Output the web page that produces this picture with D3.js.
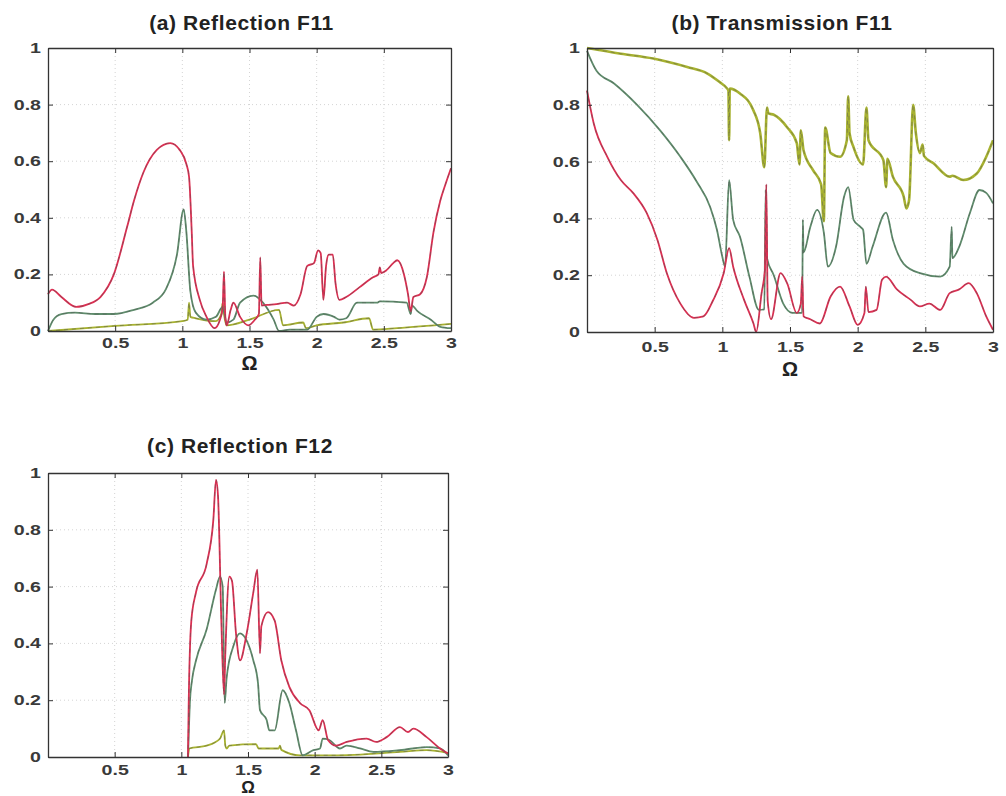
<!DOCTYPE html>
<html>
<head>
<meta charset="utf-8">
<script src="https://cdn.jsdelivr.net/npm/d3@7"></script>
<style>
  body { margin: 0; background: #fff; }
  svg { display: block; font-family: "Liberation Sans", Arial, sans-serif; }
</style>
</head>
<body>
<svg id="chart" width="1006" height="796"></svg>
<script>
// x tick and y tick labels shared by all three panels
const xTicks = [0.5, 1, 1.5, 2, 2.5, 3];
const yTicks = [0, 0.2, 0.4, 0.6, 0.8, 1];

// (a) Reflection F11 - [omega, value]
const aRed = [[0,0.13],[0.03,0.146],[0.1,0.12],[0.21,0.085],[0.3,0.095],[0.39,0.12],[0.49,0.2],[0.59,0.37],[0.64,0.46],[0.71,0.56],[0.81,0.64],[0.91,0.664],[0.98,0.64],[1.03,0.59],[1.05,0.545],[1.07,0.35],[1.08,0.23],[1.13,0.11],[1.18,0.05],[1.24,0.01],[1.28,0.04],[1.30,0.08],[1.31,0.21],[1.32,0.05],[1.33,0.02],[1.36,0.075],[1.38,0.1],[1.43,0.05],[1.49,0.02],[1.54,0.04],[1.57,0.06],[1.58,0.26],[1.59,0.09],[1.63,0.092],[1.7,0.095],[1.78,0.10],[1.83,0.09],[1.88,0.13],[1.93,0.23],[1.98,0.24],[2.01,0.285],[2.03,0.275],[2.05,0.11],[2.07,0.23],[2.09,0.27],[2.12,0.27],[2.14,0.17],[2.17,0.11],[2.22,0.12],[2.32,0.155],[2.42,0.19],[2.46,0.2],[2.47,0.225],[2.48,0.205],[2.52,0.215],[2.57,0.24],[2.60,0.25],[2.65,0.20],[2.68,0.13],[2.70,0.07],[2.72,0.12],[2.77,0.13],[2.82,0.19],[2.87,0.35],[2.92,0.46],[2.96,0.52],[3,0.575]];
const aGreen = [[0,0.0],[0.04,0.04],[0.1,0.06],[0.2,0.065],[0.35,0.06],[0.49,0.06],[0.64,0.075],[0.78,0.1],[0.88,0.15],[0.96,0.27],[1.01,0.43],[1.03,0.35],[1.06,0.14],[1.1,0.065],[1.18,0.04],[1.25,0.05],[1.3,0.085],[1.33,0.03],[1.38,0.04],[1.43,0.1],[1.53,0.125],[1.6,0.1],[1.68,0.04],[1.72,0.0],[1.8,0.005],[1.93,0.005],[2.0,0.05],[2.05,0.06],[2.13,0.05],[2.17,0.04],[2.22,0.045],[2.3,0.1],[2.45,0.1],[2.47,0.105],[2.67,0.1],[2.70,0.06],[2.71,0.09],[2.75,0.07],[2.85,0.04],[2.92,0.015],[3,0.01]];
const aYellow = [[0,0],[0.5,0.018],[1.0,0.035],[1.04,0.04],[1.05,0.10],[1.06,0.05],[1.1,0.045],[1.25,0.035],[1.29,0.06],[1.3,0.1],[1.31,0.06],[1.33,0.02],[1.5,0.04],[1.72,0.075],[1.75,0.02],[1.9,0.03],[1.92,0.01],[2.0,0.02],[2.2,0.03],[2.39,0.045],[2.42,0.005],[2.6,0.01],[3,0.025]];

// (b) Transmission F11
const bYellow = [[0,1.0],[0.25,0.98],[0.49,0.963],[0.74,0.933],[0.89,0.91],[0.98,0.88],[1.03,0.86],[1.045,0.85],[1.05,0.675],[1.055,0.857],[1.13,0.84],[1.23,0.78],[1.28,0.70],[1.31,0.58],[1.33,0.79],[1.34,0.77],[1.38,0.765],[1.48,0.72],[1.55,0.665],[1.57,0.59],[1.58,0.71],[1.6,0.64],[1.67,0.57],[1.73,0.52],[1.75,0.39],[1.76,0.72],[1.8,0.63],[1.87,0.617],[1.92,0.675],[1.93,0.83],[1.94,0.7],[1.97,0.65],[2.04,0.59],[2.065,0.79],[2.08,0.675],[2.19,0.605],[2.21,0.51],[2.22,0.61],[2.26,0.547],[2.34,0.477],[2.36,0.435],[2.38,0.465],[2.41,0.8],[2.43,0.70],[2.46,0.63],[2.48,0.66],[2.49,0.62],[2.56,0.594],[2.68,0.547],[2.7,0.55],[2.78,0.535],[2.88,0.558],[2.95,0.617],[3,0.675]];
const bGreen = [[0,0.99],[0.07,0.92],[0.2,0.875],[0.37,0.80],[0.54,0.71],[0.69,0.617],[0.81,0.53],[0.91,0.44],[0.96,0.36],[1.0,0.265],[1.02,0.23],[1.05,0.535],[1.08,0.395],[1.13,0.336],[1.2,0.195],[1.27,0.078],[1.31,0.08],[1.32,0.5],[1.33,0.26],[1.38,0.2],[1.45,0.1],[1.52,0.067],[1.59,0.067],[1.595,0.395],[1.6,0.28],[1.65,0.37],[1.7,0.43],[1.75,0.35],[1.78,0.23],[1.84,0.30],[1.9,0.477],[1.93,0.51],[1.97,0.395],[2.02,0.37],[2.04,0.36],[2.065,0.24],[2.11,0.30],[2.21,0.42],[2.26,0.325],[2.34,0.24],[2.46,0.207],[2.61,0.195],[2.68,0.23],[2.695,0.37],[2.70,0.26],[2.75,0.30],[2.83,0.42],[2.9,0.50],[2.95,0.49],[3,0.453]];
const bRed = [[0,0.85],[0.05,0.734],[0.15,0.617],[0.25,0.535],[0.34,0.49],[0.44,0.42],[0.52,0.325],[0.59,0.207],[0.69,0.10],[0.79,0.05],[0.86,0.055],[0.93,0.11],[1.01,0.207],[1.05,0.295],[1.08,0.23],[1.16,0.114],[1.23,0.03],[1.25,0.0],[1.29,0.137],[1.315,0.22],[1.325,0.52],[1.335,0.11],[1.36,0.045],[1.43,0.207],[1.48,0.17],[1.55,0.067],[1.58,0.1],[1.59,0.195],[1.6,0.055],[1.65,0.045],[1.72,0.03],[1.8,0.125],[1.87,0.16],[1.94,0.09],[2.0,0.025],[2.05,0.067],[2.06,0.16],[2.08,0.07],[2.14,0.078],[2.18,0.184],[2.21,0.195],[2.29,0.15],[2.39,0.114],[2.46,0.09],[2.53,0.10],[2.61,0.078],[2.68,0.137],[2.75,0.15],[2.82,0.172],[2.88,0.137],[2.95,0.055],[3,0.008]];

// (c) Reflection F12
const cRed = [[1.05,0],[1.055,0.18],[1.075,0.48],[1.11,0.58],[1.19,0.68],[1.24,0.835],[1.26,0.976],[1.275,0.92],[1.30,0.48],[1.32,0.22],[1.33,0.365],[1.36,0.635],[1.38,0.62],[1.41,0.435],[1.44,0.34],[1.49,0.435],[1.54,0.58],[1.57,0.66],[1.59,0.365],[1.6,0.46],[1.65,0.51],[1.7,0.48],[1.75,0.34],[1.81,0.247],[1.89,0.19],[1.96,0.165],[2.03,0.094],[2.06,0.13],[2.1,0.06],[2.16,0.04],[2.24,0.053],[2.39,0.065],[2.46,0.053],[2.54,0.07],[2.64,0.105],[2.7,0.088],[2.74,0.10],[2.84,0.07],[2.94,0.03],[3,0.012]];
const cGreen = [[1.05,0],[1.065,0.2],[1.08,0.27],[1.11,0.34],[1.19,0.45],[1.26,0.59],[1.29,0.635],[1.31,0.6],[1.325,0.19],[1.34,0.28],[1.39,0.39],[1.44,0.435],[1.49,0.41],[1.54,0.34],[1.575,0.26],[1.59,0.165],[1.64,0.13],[1.66,0.094],[1.7,0.094],[1.76,0.235],[1.81,0.19],[1.86,0.094],[1.91,0.006],[1.99,0.024],[2.04,0.03],[2.06,0.065],[2.11,0.06],[2.19,0.03],[2.24,0.04],[2.34,0.03],[2.44,0.018],[2.64,0.024],[2.84,0.035],[2.94,0.03],[3,0.006]];
const cYellow = [[1.05,0],[1.06,0.03],[1.19,0.04],[1.29,0.065],[1.32,0.094],[1.33,0.04],[1.34,0.03],[1.36,0.04],[1.56,0.045],[1.58,0.03],[1.73,0.03],[1.74,0.04],[1.75,0.025],[1.89,0.006],[2.14,0.006],[2.64,0.018],[2.84,0.024],[3,0.014]];

const colors = { red: "#dc2f52", green: "#5f8c6c", yellow: "#a7b230" };

const svg = d3.select("#chart");
const fmt = d3.format("~g");

function drawPanel(p) {
  const x = d3.scaleLinear().domain([0, 3]).range([p.left, p.right]);
  const y = d3.scaleLinear().domain([0, 1]).range([p.bottom, p.top]);
  const g = svg.append("g");

  // dotted grid
  g.selectAll(".gx").data(xTicks.slice(0, -1)).enter().append("line")
    .attr("x1", d => x(d)).attr("x2", d => x(d))
    .attr("y1", p.top).attr("y2", p.bottom)
    .attr("stroke", "#d4d4d4").attr("stroke-dasharray", "1,3");
  g.selectAll(".gy").data(yTicks.slice(1, -1)).enter().append("line")
    .attr("x1", p.left).attr("x2", p.right)
    .attr("y1", d => y(d)).attr("y2", d => y(d))
    .attr("stroke", "#d4d4d4").attr("stroke-dasharray", "1,3");

  // curves: solid colour with dashed dark overlay
  const line = d3.line().x(d => x(d[0])).y(d => y(d[1])).curve(d3.curveMonotoneX);
  p.series.forEach(s => {
    g.append("path").datum(s.data).attr("d", line)
      .attr("fill", "none").attr("stroke", s.color).attr("stroke-width", s.w || 1.8)
      .attr("stroke-linejoin", "round");
    g.append("path").datum(s.data).attr("d", line)
      .attr("fill", "none").attr("stroke", "#555").attr("stroke-width", 0.9)
      .attr("stroke-dasharray", "4,4").attr("opacity", 0.5);
  });

  // axes, ticks inside on all four sides
  const ax = (gen, tx) => g.append("g").attr("transform", tx).call(gen)
    .call(a => a.select(".domain").attr("stroke", "#333").attr("stroke-width", 1.3))
    .call(a => a.selectAll(".tick line").attr("stroke", "#333"));

  const bottom = ax(d3.axisBottom(x).tickValues(xTicks).tickSizeInner(-5).tickSizeOuter(0)
    .tickFormat(fmt), `translate(0,${p.bottom})`);
  bottom.selectAll("text").attr("y", p.xTickY).attr("dy", 0)
    .attr("transform", "scale(1.4,1)");
  const left = ax(d3.axisLeft(y).tickValues(yTicks).tickSizeInner(-5).tickSizeOuter(0)
    .tickFormat(fmt), `translate(${p.left},0)`);
  left.selectAll("text").attr("x", -7 / 1.4).attr("transform", "scale(1.4,1)");

  ax(d3.axisTop(x).tickValues(xTicks).tickSizeInner(-5).tickSizeOuter(0).tickFormat(""),
    `translate(0,${p.top})`);
  ax(d3.axisRight(y).tickValues(yTicks).tickSizeInner(-5).tickSizeOuter(0).tickFormat(""),
    `translate(${p.right},0)`);

  g.selectAll(".tick text")
    .attr("font-family", "'Liberation Sans', Arial, sans-serif")
    .attr("font-size", 14).attr("font-weight", "bold").attr("fill", "#3a3a3a");

  g.append("text").text(p.title)
    .attr("x", (p.left + p.right) / 2 - 8).attr("y", p.titleY)
    .attr("text-anchor", "middle").attr("font-size", 21).attr("font-weight", "bold")
    .attr("fill", "#222").attr("letter-spacing", 0.6);

  g.append("text").text("Ω")
    .attr("x", (p.left + p.right) / 2).attr("y", p.xLabelY)
    .attr("text-anchor", "middle").attr("font-size", p.xLabelSize || 20).attr("font-weight", "bold")
    .attr("fill", "#222");
}

drawPanel({
  title: "(a) Reflection F11", left: 48, right: 451, top: 48, bottom: 331,
  titleY: 30, xTickY: 17, xLabelY: 370,
  series: [
    { data: aYellow, color: colors.yellow },
    { data: aGreen, color: colors.green },
    { data: aRed, color: colors.red }
  ]
});

drawPanel({
  title: "(b) Transmission F11", left: 587, right: 993, top: 48, bottom: 332,
  titleY: 30, xTickY: 20, xLabelY: 376,
  series: [
    { data: bYellow, color: colors.yellow, w: 2.6 },
    { data: bGreen, color: colors.green },
    { data: bRed, color: colors.red }
  ]
});

drawPanel({
  title: "(c) Reflection F12", left: 48, right: 448, top: 473, bottom: 757,
  titleY: 453, xTickY: 18, xLabelY: 793, xLabelSize: 17,
  series: [
    { data: cYellow, color: colors.yellow },
    { data: cGreen, color: colors.green },
    { data: cRed, color: colors.red }
  ]
});
</script>
</body>
</html>
